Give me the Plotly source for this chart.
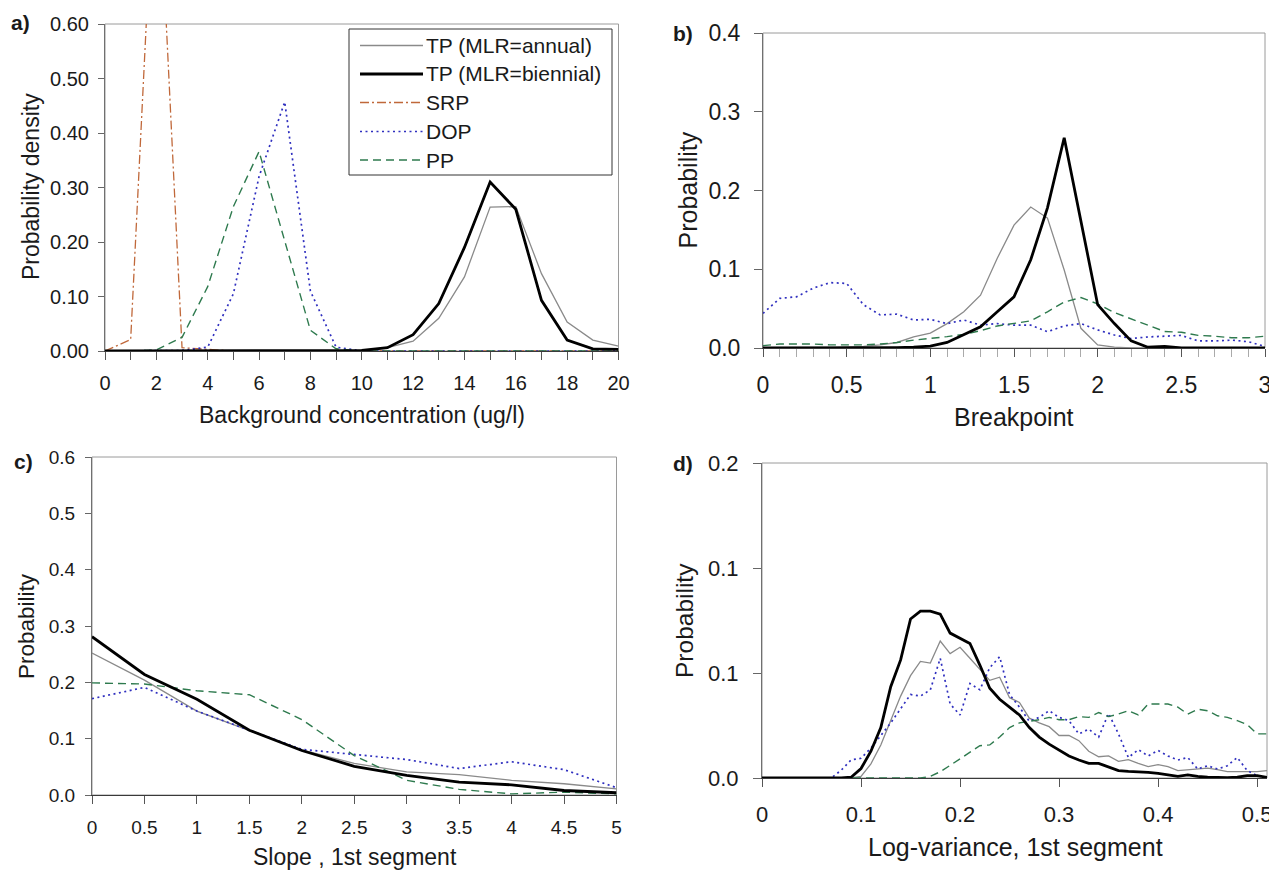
import plotly.graph_objects as go

# The page body has an 8px margin, so the figure is drawn 8px smaller and all
# pixel positions below (measured on the full 1277x872 picture) are shifted by it.
PAGE_W, PAGE_H = 1277, 872
OFF = 8
W, H = PAGE_W - OFF, PAGE_H - OFF

# ---------------- data ----------------
# Panel a: background concentration (ug/l)
x_a = list(range(0, 21))
tp_annual_a = [0, 0, 0, 0, 0, 0, 0, 0, 0, 0, 0.001, 0.006, 0.018, 0.06, 0.136, 0.264, 0.265, 0.142, 0.053, 0.02, 0.009]
tp_biennial_a = [0, 0, 0, 0, 0, 0, 0, 0, 0, 0, 0.001, 0.006, 0.03, 0.087, 0.19, 0.31, 0.26, 0.093, 0.02, 0.004, 0.003]
srp_a = [0, 0.021, 0.975, 0.006, 0.003, 0, 0, 0, 0, 0, 0, 0, 0, 0, 0, 0, 0, 0, 0, 0, 0]
dop_a = [0, 0, 0, 0.001, 0.007, 0.105, 0.32, 0.457, 0.11, 0.007, 0, 0, 0, 0, 0, 0, 0, 0, 0, 0, 0]
pp_a = [0, 0, 0.002, 0.025, 0.118, 0.265, 0.366, 0.203, 0.038, 0.004, 0, 0, 0, 0, 0, 0, 0, 0, 0, 0, 0]

# Panel b: breakpoint
x_b = [round(0.1 * i, 1) for i in range(31)]
tp_annual_b = [0, 0, 0, 0, 0, 0.001, 0.002, 0.004, 0.007, 0.014, 0.019, 0.031, 0.046, 0.067, 0.114, 0.156,
               0.179, 0.165, 0.099, 0.025, 0.004, 0.001, 0, 0, 0, 0, 0, 0, 0, 0, 0]
tp_biennial_b = [0, 0, 0, 0, 0, 0, 0, 0, 0.0005, 0.001, 0.0025, 0.007, 0.0165, 0.027, 0.046, 0.065,
                 0.112, 0.178, 0.267, 0.162, 0.055, 0.031, 0.009, 0.001, 0.002, 0, 0, 0, 0, 0, 0]
dop_b = [0.044, 0.063, 0.065, 0.076, 0.083, 0.082, 0.055, 0.042, 0.043, 0.0356, 0.0364, 0.031, 0.0356,
         0.029, 0.031, 0.029, 0.029, 0.0207, 0.028, 0.031, 0.023, 0.0165, 0.012, 0.014, 0.015, 0.016,
         0.009, 0.009, 0.01, 0.008, 0.002]
pp_b = [0.003, 0.005, 0.005, 0.005, 0.004, 0.004, 0.004, 0.005, 0.007, 0.01, 0.012, 0.0144, 0.0173, 0.022,
        0.028, 0.031, 0.0345, 0.046, 0.0584, 0.064, 0.056, 0.045, 0.037, 0.028, 0.021, 0.02, 0.016, 0.015,
        0.013, 0.013, 0.015]

# Panel c: slope, 1st segment
x_c = [0, 0.5, 1, 1.5, 2, 2.5, 3, 3.5, 4, 4.5, 5]
tp_annual_c = [0.252, 0.204, 0.149, 0.115, 0.08, 0.056, 0.041, 0.036, 0.026, 0.02, 0.011]
tp_biennial_c = [0.281, 0.214, 0.17, 0.115, 0.079, 0.051, 0.035, 0.023, 0.018, 0.008, 0.004]
dop_c = [0.171, 0.191, 0.149, 0.115, 0.081, 0.072, 0.063, 0.047, 0.059, 0.045, 0.013]
pp_c = [0.199, 0.197, 0.185, 0.178, 0.134, 0.07, 0.026, 0.01, 0.002, 0.005, 0.002]

# Panel d: log-variance, 1st segment
x_d = [round(0.01 * i, 2) for i in range(52)]
tp_annual_d = [0, 0, 0, 0, 0, 0, 0, 0, 0, 0,
               0.001, 0.009, 0.021, 0.036, 0.052, 0.065, 0.074, 0.073, 0.087, 0.079,
               0.083, 0.076, 0.069, 0.062, 0.064, 0.051, 0.048, 0.038, 0.035, 0.0326,
               0.027, 0.027, 0.0237, 0.017, 0.0135, 0.014, 0.0106, 0.0116, 0.0093, 0.0072,
               0.0085, 0.0072, 0.0047, 0.0053, 0.0057, 0.0063, 0.0053, 0.004, 0.004, 0.004,
               0.004, 0.0047]
tp_biennial_d = [0, 0, 0, 0, 0, 0, 0, 0, 0, 0.0005,
                 0.006, 0.017, 0.032, 0.058, 0.075, 0.101, 0.106, 0.106, 0.104, 0.092,
                 0.0886, 0.0854, 0.0717, 0.057, 0.05, 0.045, 0.04, 0.032, 0.026, 0.0215,
                 0.018, 0.014, 0.0114, 0.0093, 0.0093, 0.0072, 0.0047, 0.0042, 0.004, 0.0036,
                 0.003, 0.002, 0.001, 0.002, 0.001, 0.0005, 0.0003, 0.0003, 0.0005, 0.0015,
                 0.0015, 0.0004]
dop_d = [0, 0, 0, 0, 0, 0, 0, 0, 0.005, 0.0115,
         0.0125, 0.019, 0.027, 0.035, 0.044, 0.053, 0.052, 0.056, 0.076, 0.047,
         0.04, 0.06, 0.056, 0.07, 0.077, 0.053, 0.045, 0.036, 0.0385, 0.0427,
         0.0385, 0.0364, 0.028, 0.031, 0.026, 0.041, 0.028, 0.013, 0.018, 0.014,
         0.0175, 0.014, 0.0114, 0.013, 0.0057, 0.0078, 0.0057, 0.0078, 0.013, 0.0047,
         0.0015, 0.0004]
pp_d = [0, 0, 0, 0, 0, 0, 0, 0, 0, 0,
        0, 0, 0, 0, 0, 0, 0, 0.001, 0.004, 0.008,
        0.012, 0.016, 0.0205, 0.021, 0.026, 0.032, 0.035, 0.036, 0.037, 0.0385,
        0.037, 0.037, 0.039, 0.0385, 0.0416, 0.039, 0.0406, 0.0427, 0.04, 0.047,
        0.047, 0.047, 0.045, 0.0406, 0.0437, 0.0427, 0.0395, 0.0385, 0.0364, 0.034,
        0.028, 0.028]

series_names = ["TP (MLR=annual)", "TP (MLR=biennial)", "SRP", "DOP", "PP"]
d_ticks = [0, 0.2 / 3, 0.4 / 3, 0.2]
d_ticktext = ["0.0", "0.1", "0.1", "0.2"]

# ---------------- styles ----------------
FONT = "Arial, Liberation Sans, sans-serif"
TXT = "#1a1a1a"
styles = {
    "TP (MLR=annual)": dict(color="#8a8a8a", width=1.3, dash="solid"),
    "TP (MLR=biennial)": dict(color="#000000", width=2.8, dash="solid"),
    "SRP": dict(color="#c0683a", width=1.3, dash="9px,3px,2px,3px"),
    "DOP": dict(color="#2f2fbf", width=1.7, dash="2px,3.5px"),
    "PP": dict(color="#2e7a4e", width=1.4, dash="8px,5px"),
}


def px(x):
    return (x - OFF) / W


def py(y):
    return 1 - (y - OFF) / H


fig = go.Figure()

panels = [
    ("x", "y", x_a, [tp_annual_a, tp_biennial_a, srp_a, dop_a, pp_a], series_names),
    ("x2", "y2", x_b, [tp_annual_b, tp_biennial_b, dop_b, pp_b], ["TP (MLR=annual)", "TP (MLR=biennial)", "DOP", "PP"]),
    ("x3", "y3", x_c, [tp_annual_c, tp_biennial_c, dop_c, pp_c], ["TP (MLR=annual)", "TP (MLR=biennial)", "DOP", "PP"]),
    ("x4", "y4", x_d, [tp_annual_d, tp_biennial_d, dop_d, pp_d], ["TP (MLR=annual)", "TP (MLR=biennial)", "DOP", "PP"]),
]
for xa, ya, xs, ys_list, names in panels:
    order = [i for i in range(len(names)) if names[i] != "TP (MLR=biennial)"] + [names.index("TP (MLR=biennial)")]
    for i in order:
        nm = names[i]
        fig.add_trace(go.Scatter(x=xs, y=ys_list[i], mode="lines", name=nm, xaxis=xa, yaxis=ya,
                                 line=styles[nm], showlegend=False, hoverinfo="skip"))

# ---------------- axes ----------------
AX_X = "#3a3a3a"
AX_Y = "#707070"
boxes = {
    "a": (105, 618.5, 24, 351),
    "b": (763, 1265, 33, 348),
    "c": (92, 616.5, 457, 795),
    "d": (762, 1267, 463, 778),
}


def xaxis_cfg(box, rng, dtick, fs, standoff, anchor, minor=None, ticklen=8):
    l, r, t, b = box
    cfg = dict(domain=[px(l), px(r)], range=rng, dtick=dtick, tick0=0, showline=True, linecolor=AX_X,
               linewidth=1.3, ticks="outside", ticklen=ticklen, tickcolor="#555", tickwidth=1,
               showgrid=False, zeroline=False, tickfont=dict(family=FONT, size=fs, color=TXT),
               ticklabelstandoff=standoff, fixedrange=True, automargin=False, anchor=anchor)
    if minor:
        cfg["minor"] = minor
    return cfg


def yaxis_cfg(box, rng, fs, standoff, anchor, dtick=None, tickformat=None, tickvals=None, ticktext=None, ticklen=6):
    l, r, t, b = box
    cfg = dict(domain=[py(b), py(t)], range=rng, showline=True, linecolor=AX_Y, linewidth=1,
               ticks="outside", ticklen=ticklen, tickcolor="#666", tickwidth=1, showgrid=False,
               zeroline=False, tickfont=dict(family=FONT, size=fs, color=TXT), anchor=anchor,
               ticklabelstandoff=standoff, fixedrange=True, automargin=False)
    if dtick is not None:
        cfg.update(dtick=dtick, tick0=0)
    if tickformat:
        cfg["tickformat"] = tickformat
    if tickvals is not None:
        cfg.update(tickmode="array", tickvals=tickvals, ticktext=ticktext)
    return cfg


layout = dict(
    template="none",
    width=W, height=H, autosize=False, margin=dict(l=0, r=0, t=0, b=0, pad=0),
    paper_bgcolor="white", plot_bgcolor="white", showlegend=False,
    xaxis=xaxis_cfg(boxes["a"], [0, 20], 2, 20, 6, "y",
                    minor=dict(dtick=1, ticks="outside", ticklen=8, tickcolor="#555"), ticklen=8),
    yaxis=yaxis_cfg(boxes["a"], [0, 0.6], 20, 5, "x", dtick=0.1, tickformat=".2f"),
    xaxis2=xaxis_cfg(boxes["b"], [0, 3], 0.5, 23, 8, "y2",
                     minor=dict(dtick=0.1, ticks="outside", ticklen=8, tickcolor="#aaaaaa"), ticklen=8),
    yaxis2=yaxis_cfg(boxes["b"], [0, 0.4], 23, 9, "x2", dtick=0.1, tickformat=".1f", ticklen=8),
    xaxis3=xaxis_cfg(boxes["c"], [0, 5], 0.5, 19, 7, "y3", ticklen=8),
    yaxis3=yaxis_cfg(boxes["c"], [0, 0.6], 19, 6, "x3", dtick=0.1, tickformat=".1f"),
    xaxis4=xaxis_cfg(boxes["d"], [0, 0.51], 0.1, 22, 8, "y4", ticklen=8),
    yaxis4=yaxis_cfg(boxes["d"], [0, 0.2], 22, 10, "x4", tickvals=d_ticks, ticktext=d_ticktext, ticklen=8),
)
fig.update_layout(**layout)

shapes = []
for suffix in ["", "2", "3", "4"]:
    shapes.append(dict(type="rect", xref=f"x{suffix} domain", yref=f"y{suffix} domain",
                       x0=0, x1=1, y0=0, y1=1, line=dict(color="#9a9a9a", width=1), layer="below"))

annotations = []


def ann(x, y, text, size, bold=False, angle=0):
    annotations.append(dict(x=px(x), y=py(y), xref="paper", yref="paper", text=f"<b>{text}</b>" if bold else text,
                            showarrow=False, xanchor="center", yanchor="middle", textangle=angle,
                            font=dict(family=FONT, size=size, color=TXT)))


# axis titles
ann(361.5, 415, "Background concentration (ug/l)", 23)
ann(31, 187, "Probability density", 23, angle=-90)
ann(1014, 417, "Breakpoint", 25)
ann(687.5, 190, "Probability", 25, angle=-90)
ann(355, 857, "Slope , 1st segment", 23)
ann(26, 626, "Probability", 22.5, angle=-90)
ann(1015, 847, "Log-variance, 1st segment", 25)
ann(684, 621, "Probability", 24.5, angle=-90)

# panel letters
ann(21, 22, "a)", 21, bold=True)
ann(683, 34, "b)", 21, bold=True)
ann(23, 462, "c)", 21, bold=True)
ann(683, 463, "d)", 21, bold=True)

# legend (panel a)
shapes.append(dict(type="rect", xref="paper", yref="paper", x0=px(349), x1=px(612), y0=py(175), y1=py(29),
                   line=dict(color="#333333", width=1), fillcolor="white", layer="above"))
leg_y = [45.5, 74, 102.5, 131.5, 160]
for nm, yy in zip(series_names, leg_y):
    st = styles[nm]
    shapes.append(dict(type="line", xref="paper", yref="paper", x0=px(360), x1=px(423), y0=py(yy), y1=py(yy),
                       line=dict(color=st["color"], width=st["width"], dash=st["dash"]), layer="above"))
    annotations.append(dict(x=px(424), y=py(yy), xref="paper", yref="paper", text=nm, showarrow=False,
                            xanchor="left", yanchor="middle", font=dict(family=FONT, size=21, color=TXT)))

fig.update_layout(shapes=shapes, annotations=annotations)

fig.write_html("out.html")
